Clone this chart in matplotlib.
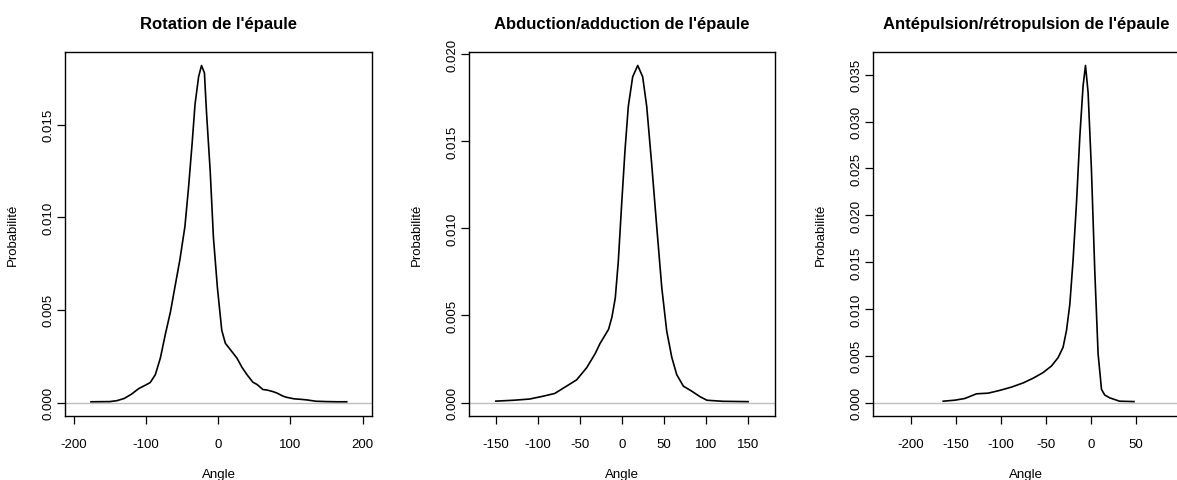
import matplotlib
matplotlib.use("Agg")
import matplotlib.pyplot as plt
from matplotlib.ticker import FormatStrFormatter

plt.rcParams['font.family'] = ['Liberation Sans', 'DejaVu Sans']
plt.rcParams['axes.unicode_minus'] = False

# Rotation de l'épaule
rot_x = [-176, -150, -140, -130, -120, -110, -100, -94, -87, -80, -73, -66, -60, -53,
         -46, -41, -36, -32, -27, -23, -19, -16, -11, -6.5, -1, 5, 10, 14, 20, 26, 33,
         40, 48, 54, 62, 67, 75, 81, 90, 95, 105, 115, 123, 135, 150, 165, 178]
rot_y = [0.00004, 0.00005, 0.0001, 0.00022, 0.00045, 0.00075, 0.00095, 0.00108, 0.0015,
         0.0024, 0.0037, 0.0049, 0.0062, 0.0077, 0.0095, 0.0116, 0.014, 0.0161, 0.0176,
         0.0182, 0.0178, 0.0156, 0.0125, 0.0089, 0.0062, 0.0039, 0.0032, 0.003, 0.0027,
         0.0024, 0.0019, 0.0015, 0.0011, 0.00097, 0.0007, 0.00068, 0.0006, 0.00052,
         0.00034, 0.00028, 0.0002, 0.00017, 0.00014, 0.00007, 0.00005, 0.00004, 0.00004]

# Abduction/adduction de l'épaule
abd_x = [-150, -129, -110, -94, -80, -66, -54, -42, -32, -26, -16, -12, -8, -4.4, -0.4,
         3.6, 7.5, 12.7, 18.7, 24.6, 29.4, 35.3, 41.3, 47.3, 53.2, 59.2, 65.1, 73, 83,
         93, 101, 120, 150]
abd_y = [0.00008, 0.00013, 0.0002, 0.00036, 0.00052, 0.00094, 0.0013, 0.002, 0.0028,
         0.0034, 0.0042, 0.0049, 0.006, 0.0081, 0.0114, 0.0145, 0.017, 0.0187, 0.01935,
         0.0187, 0.017, 0.0137, 0.0101, 0.0066, 0.0041, 0.0026, 0.0016, 0.00094,
         0.00065, 0.00033, 0.00013, 0.00007, 0.00005]

# Antépulsion/rétropulsion de l'épaule
ant_x = [-164, -151, -140, -127, -114, -101, -88, -75, -64, -53, -43.7, -36.3, -30.8,
         -27, -23.3, -19.7, -15.9, -12.2, -8.6, -5.9, -3, 0.7, 4.4, 8.1, 11.9, 15.5, 21,
         32, 48]
ant_y = [0.00014, 0.00025, 0.00043, 0.00093, 0.001, 0.0013, 0.00165, 0.0021, 0.0026,
         0.0032, 0.0039, 0.0048, 0.0059, 0.0077, 0.0105, 0.0152, 0.0213, 0.0284, 0.0338,
         0.036, 0.0331, 0.0249, 0.0141, 0.0052, 0.0014, 0.0008, 0.0005, 0.00014, 0.0001]

titles = ["Rotation de l'épaule", "Abduction/adduction de l'épaule",
          "Antépulsion/rétropulsion de l'épaule"]
xticks = [[-200, -100, 0, 100, 200],
          [-150, -100, -50, 0, 50, 100, 150],
          [-200, -150, -100, -50, 0, 50]]
yticks = [[0.0, 0.005, 0.010, 0.015],
          [0.0, 0.005, 0.010, 0.015, 0.020],
          [0.0, 0.005, 0.010, 0.015, 0.020, 0.025, 0.030, 0.035]]
xlims = [(-212, 213), (-182, 182), (-242, 98)]
series = [(rot_x, rot_y), (abd_x, abd_y), (ant_x, ant_y)]

W, H = 1177, 481
fig = plt.figure(figsize=(W / 100, H / 100), dpi=100)
boxes = [(65, 53, 372, 417), (469, 53, 775, 417), (873, 53, 1179, 417)]

for i in range(3):
    l, t, r, b = boxes[i]
    ax = fig.add_axes([l / W, 1 - b / H, (r - l) / W, (b - t) / H])
    x, y = series[i]
    ax.axhline(0, color='#bebebe', lw=1.0, zorder=1)
    ax.plot(x, y, color='black', lw=1.2, zorder=2)
    ymax = max(y)
    ax.set_ylim(-0.04 * ymax, 1.04 * ymax)
    ax.set_xlim(*xlims[i])
    ax.set_xticks(xticks[i])
    ax.set_yticks(yticks[i])
    ax.yaxis.set_major_formatter(FormatStrFormatter('%.3f'))
    ax.tick_params(direction='out', length=5.5, width=0.9, labelsize=9.5,
                   colors='black')
    ax.tick_params(axis='x', pad=10)
    ax.tick_params(axis='y', pad=2)
    for lab in ax.get_yticklabels():
        lab.set_rotation(90)
        lab.set_va('center')
    for s in ax.spines.values():
        s.set_linewidth(1.0)
    ax.set_title(titles[i], fontsize=12, fontweight='bold', pad=17)
    ax.set_xlabel('Angle', fontsize=9.5, labelpad=13)
    ax.set_ylabel('Probabilité', fontsize=9.5)
    ax.yaxis.set_label_coords(-0.15, 0.5)

fig.savefig('out.png', dpi=100)
